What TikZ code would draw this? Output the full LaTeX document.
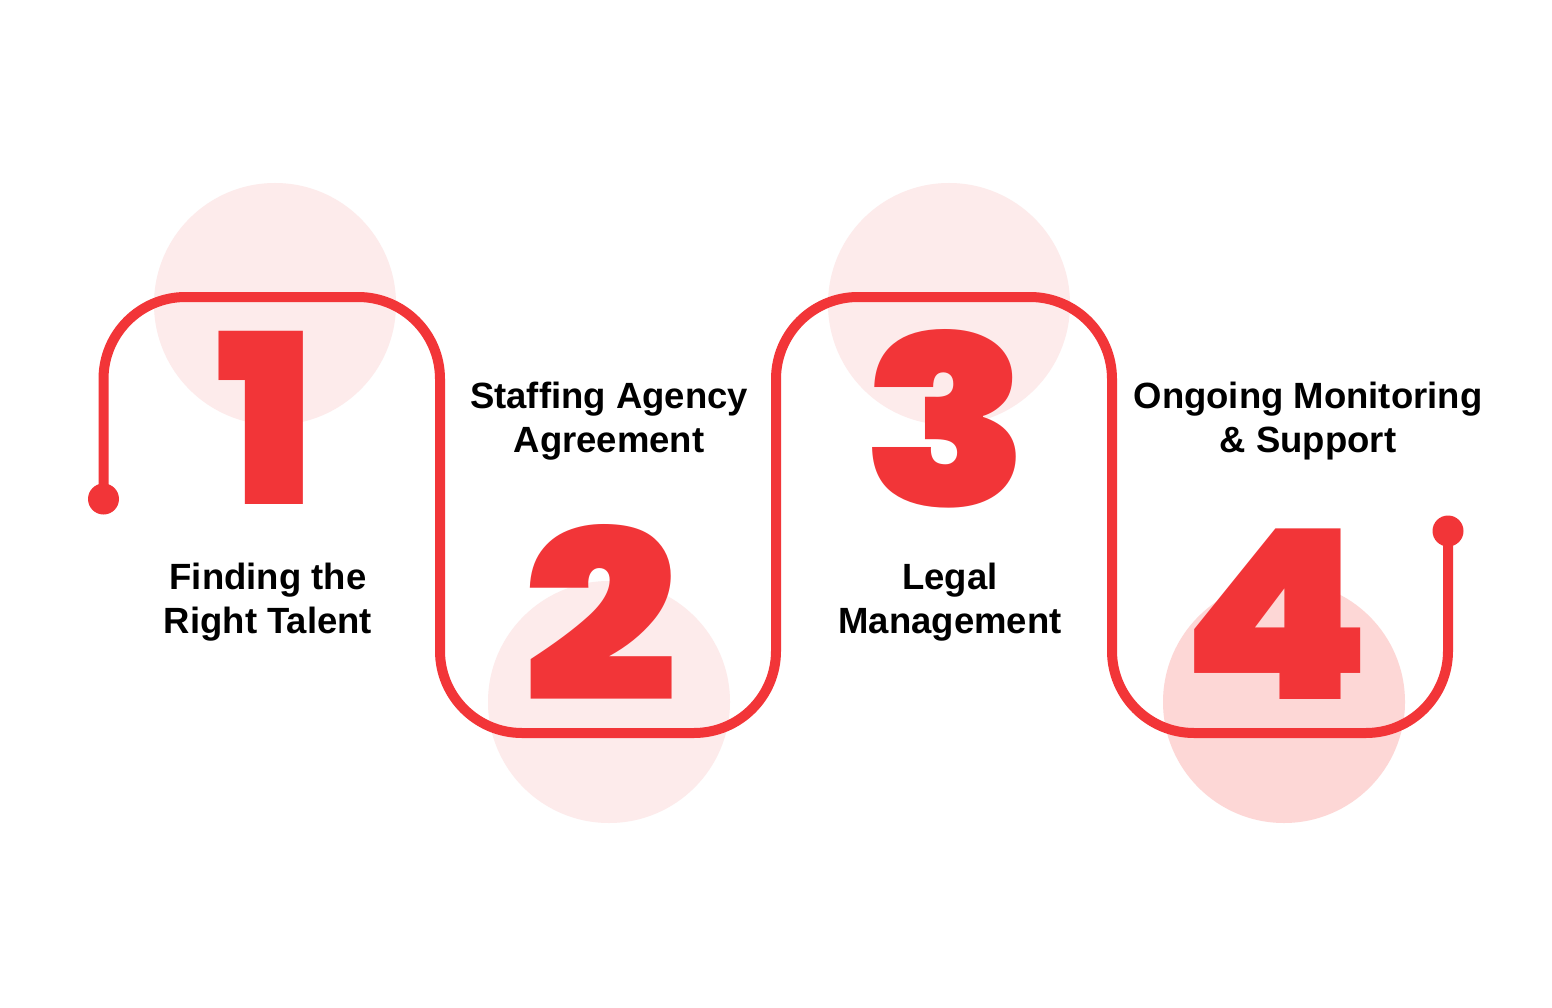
\documentclass[tikz,border=0pt]{standalone}
\usepackage{fontspec}
\setmainfont{Liberation Sans}
\newfontfamily\digfont{Poppins Black}[FakeStretch=1.15]
\newfontfamily\digfontone{Poppins Black}[FakeStretch=1.05]
\definecolor{accred}{RGB}{242,53,56}
\definecolor{softpink}{RGB}{253,235,235}
\definecolor{midpink}{RGB}{253,215,214}
\begin{document}
\begin{tikzpicture}[x=1pt,y=-1pt,
  blob/.style={circle,fill=#1,draw=none,minimum size=242pt,inner sep=0pt},
  enddot/.style={circle,fill=accred,draw=none,minimum size=31pt,inner sep=0pt},
  redline/.style={draw=accred,line width=10pt,rounded corners=82pt},
  bignum/.style={text=accred,inner sep=0pt,text depth=0pt,text height=180pt,anchor=base,
    font=\digfont\fontsize{237}{237}\selectfont},
  bignumone/.style={bignum,font=\digfontone\fontsize{237}{237}\selectfont},
  steplabel/.style={inner sep=0pt,align=center,font=\bfseries\fontsize{36.5}{44}\selectfont}]
\useasboundingbox (0,0) rectangle (1552,1008);
\fill[white] (0,0) rectangle (1552,1008);
% background circles
\node[blob=softpink] (c1) at (275,304) {};
\node[blob=softpink] (c2) at (609,702) {};
\node[blob=softpink] (c3) at (949,304) {};
\node[blob=midpink] (c4) at (1284,702) {};
% path corners
\coordinate (p1) at (103.5,297);
\coordinate (p2) at (440,297);
\coordinate (p3) at (440,733);
\coordinate (p4) at (776,733);
\coordinate (p5) at (776,297);
\coordinate (p6) at (1112,297);
\coordinate (p7) at (1112,733);
\coordinate (p8) at (1448,733);
\node[enddot] (start) at (103.5,499) {};
\node[enddot] (finish) at (1448,531) {};
\draw[redline] (start.center) -- (p1) -- (p2) -- (p3) -- (p4) -- (p5) -- (p6) -- (p7) -- (p8) -- (finish.center);
% digits
\node[bignumone] (d1) at (266,504) {1};
\node[bignum] (d2) at (601,701) {2};
\node[bignum] (d3) at (946,506) {3};
\node[bignum] (d4) at (1276.5,699) {4};
% labels
\node[steplabel] (l1) at (268,602) {Finding the\\Right Talent};
\node[steplabel] (l2) at (609,421) {Staffing Agency\\Agreement};
\node[steplabel] (l3) at (950,602) {Legal\\Management};
\node[steplabel] (l4) at (1308,421) {Ongoing Monitoring\\\& Support};
\end{tikzpicture}
\end{document}
